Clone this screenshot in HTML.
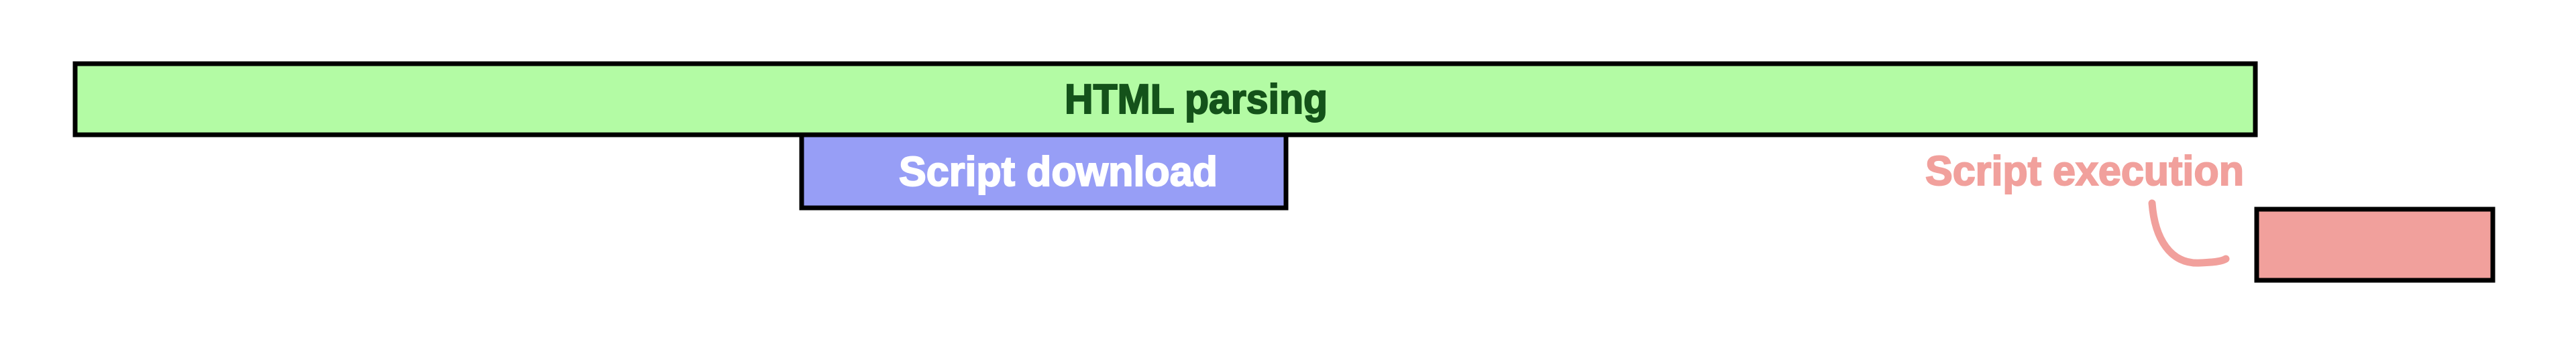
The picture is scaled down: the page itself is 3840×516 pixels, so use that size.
<!DOCTYPE html>
<html><head><meta charset="utf-8"><style>
html,body{margin:0;padding:0;background:#fff;}
svg{display:block;}
text{font-family:"Liberation Sans",sans-serif;font-weight:bold;}
</style></head><body>
<svg width="3840" height="516" viewBox="0 0 3840 516" xmlns="http://www.w3.org/2000/svg">
<rect x="0" y="0" width="3840" height="516" fill="#fff"/>
<rect x="1195" y="199" width="722" height="111" fill="#979ef6" stroke="#000" stroke-width="7"/>
<rect x="112" y="95" width="3250" height="106" fill="#b3fba4" stroke="#000" stroke-width="7"/>
<rect x="3364" y="312" width="352" height="106" fill="#f1a09c" stroke="#000" stroke-width="7"/>
<text x="1587" y="169" font-size="62" fill="#14521a" stroke="#14521a" stroke-width="2" textLength="392" lengthAdjust="spacingAndGlyphs">HTML parsing</text>
<text x="1340" y="277" font-size="62" fill="#fff" stroke="#fff" stroke-width="2" textLength="475" lengthAdjust="spacingAndGlyphs">Script download</text>
<text x="2870" y="276" font-size="62" fill="#f1a09c" stroke="#f1a09c" stroke-width="2" textLength="475" lengthAdjust="spacingAndGlyphs">Script execution</text>
<path d="M3208,303 C3212,355 3235,395 3280,392 C3300,391 3312,390 3318,386" fill="none" stroke="#f1a09c" stroke-width="11" stroke-linecap="round"/>
</svg>
</body></html>
